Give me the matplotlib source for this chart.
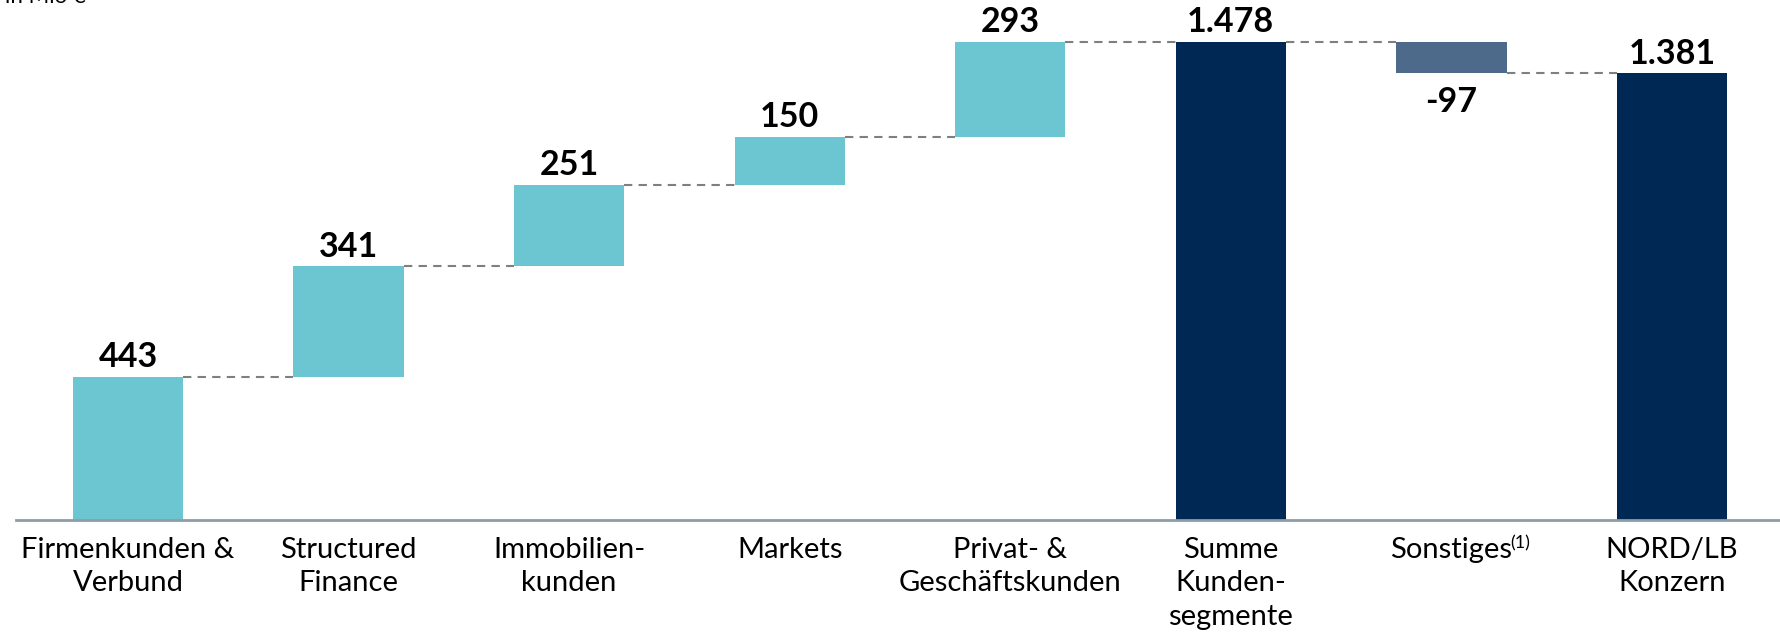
import matplotlib.pyplot as plt

# data (in Mio EUR)
categories = ['Firmenkunden &\nVerbund', 'Structured\nFinance', 'Immobilien-\nkunden', 'Markets',
              'Privat- &\nGeschäftskunden', 'Summe\nKunden-\nsegmente', 'Sonstiges',
              'NORD/LB\nKonzern']
values = [443, 341, 251, 150, 293, 1478, -97, 1381]
labels = ['443', '341', '251', '150', '293', '1.478', '-97', '1.381']
is_total = [False, False, False, False, False, True, False, True]

plt.rcParams['font.family'] = ['Lato', 'DejaVu Sans']

teal = '#6cc6d1'
navy = '#002855'
slate = '#4d6a8a'

fig = plt.figure(figsize=(17.8, 6.43), dpi=100)
ax = fig.add_axes([16 / 1780, 123 / 643, 1 - 16 / 1780, 520 / 643])

width = 0.5
running = 0
tops = []
for i, v in enumerate(values):
    if is_total[i]:
        bottom = 0
        height = v
        running = v
        color = navy
    else:
        bottom = running if v >= 0 else running + v
        height = abs(v)
        running = running + v
        color = teal if v >= 0 else slate
    ax.bar(i, height, width, bottom=bottom, color=color)
    tops.append(running)
    if v >= 0:
        ax.text(i, bottom + height + 12, labels[i], ha='center', va='bottom',
                fontsize=24.5, fontweight='bold')
    else:
        ax.text(i, bottom - 38, labels[i], ha='center', va='top',
                fontsize=24.5, fontweight='bold')

# dashed connectors
for i in range(len(values) - 1):
    ax.plot([i + width / 2, i + 1 - width / 2], [tops[i], tops[i]],
            ls=(0, (4, 3)), color='#7f7f7f', lw=1.5)

ax.set_xlim(-0.508, 7.49)
ax.set_ylim(0, 1608)
ax.set_xticks(range(len(categories)))
ax.set_xticklabels(categories, fontsize=21, linespacing=1.37, va='top')
ax.tick_params(axis='x', length=0, pad=12)
ax.set_yticks([])
for s in ['top', 'right', 'left']:
    ax.spines[s].set_visible(False)
ax.spines['bottom'].set_color('#8c9ea8')
ax.spines['bottom'].set_linewidth(2)

fig.text(0.003, 1 - 3 / 643, 'in Mio €', fontsize=16, va='baseline')

# footnote marker on "Sonstiges"
fig.canvas.draw()
bb = ax.get_xticklabels()[6].get_window_extent()
fig.text((bb.x1 - 2) / 1780, (bb.y1 + 1) / 643, '(1)', fontsize=13, va='top', ha='left')

fig.savefig('out.png', dpi=100)
